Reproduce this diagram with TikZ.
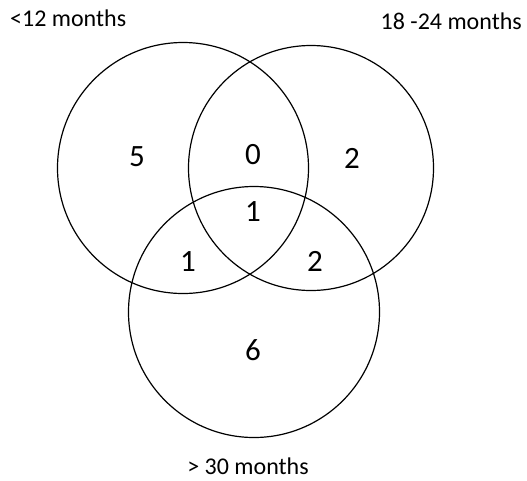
\documentclass[tikz,border=0pt]{standalone}
\usepackage{fontspec}
\setmainfont{Carlito}
\usetikzlibrary{positioning}

\begin{document}
\begin{tikzpicture}[
  x=1pt, y=-1pt,
  set/.style={draw, circle, line width=1.2pt, minimum size=#1, inner sep=0pt},
  setlabel/.style={font=\fontsize{24}{28}\selectfont, inner sep=1pt},
  count/.style={font=\fontsize{31}{36}\selectfont}
]
  \useasboundingbox (0,0) rectangle (527,480);

  % Kruznice skupova
  \node[set=251pt] (young) at (183,168) {};
  \node[set=245pt] (mid) at (311,168) {};
  \node[set=251pt] (old) at (254,312) {};

  % Nazivi skupova
  \node[setlabel, anchor=west] (lyoung) at (9,18) {<12 months};
  \node[setlabel, anchor=east] (lmid) at (523,21) {18 -24 months};
  \node[setlabel] (lold) at (248,466) {> 30 months};

  % Brojevi u podrucjima
  \node[count] (n1) at (137,157) {5};
  \node[count] (n2) at (253,155) {0};
  \node[count] (n3) at (352,158) {2};
  \node[count] (n4) at (253,212) {1};
  \node[count] (n5) at (188,262) {1};
  \node[count] (n6) at (315,261) {2};
  \node[count] (n7) at (253,350) {6};
\end{tikzpicture}
\end{document}
